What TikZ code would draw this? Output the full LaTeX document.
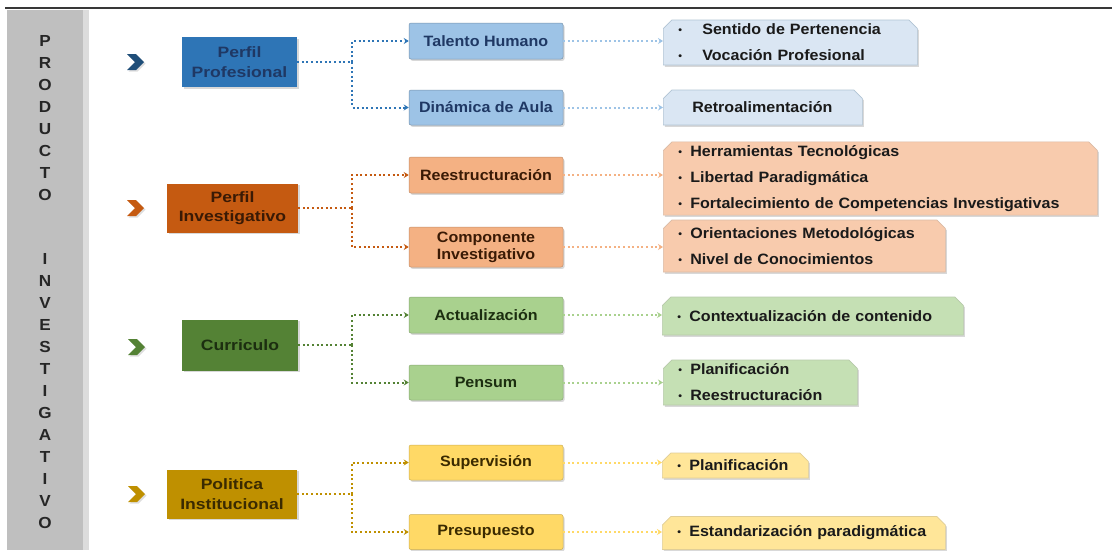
\documentclass[tikz,border=0pt]{standalone}
\usepackage{fontspec}
\setmainfont{Liberation Sans}[FakeStretch=1.07]
\newfontfamily\parfont{Liberation Sans}[FakeStretch=1.17]
\usetikzlibrary{shapes.misc,shadows,arrows.meta}
\definecolor{bP}{HTML}{2E75B6}
\definecolor{bC}{HTML}{9DC3E6}
\definecolor{bD}{HTML}{DAE6F3}
\definecolor{bT}{HTML}{1F3864}
\definecolor{bK}{HTML}{1F4E79}
\definecolor{oP}{HTML}{C55A11}
\definecolor{oC}{HTML}{F4B183}
\definecolor{oD}{HTML}{F8CBAD}
\definecolor{oT}{HTML}{3A1A05}
\definecolor{gP}{HTML}{548235}
\definecolor{gC}{HTML}{A9D18E}
\definecolor{gD}{HTML}{C5E0B4}
\definecolor{gT}{HTML}{1C2E10}
\definecolor{yP}{HTML}{BF9000}
\definecolor{yC}{HTML}{FFD966}
\definecolor{yD}{HTML}{FFE699}
\definecolor{yT}{HTML}{3A2A00}
\definecolor{txt}{HTML}{1A1A1A}
\definecolor{barG}{HTML}{BFBFBF}
\definecolor{barL}{HTML}{DCDCDC}
\newcommand\itm[1]{\makebox[12pt][l]{\raisebox{1pt}{\fontsize{10}{10}\selectfont •}}#1}
\newcommand\itmw[1]{\makebox[24pt][l]{\raisebox{1pt}{\fontsize{10}{10}\selectfont •}}#1}
\tikzset{chev/.pic={
  \fill[black,opacity=0.13] (-5.5,-6.5) -- (3.5,-6.5) -- (11.5,1.5) -- (3.5,9.5) -- (-5.5,9.5) -- (2.5,1.5) -- cycle;
  \fill[pic actions,line join=round] (-7,-8) -- (2,-8) -- (10,0) -- (2,8) -- (-7,8) -- (1,0) -- cycle;
}}
\begin{document}
\begin{tikzpicture}[x=1pt,y=-1pt,
  shad/.style={drop shadow={opacity=0.25,shadow xshift=1.5pt,shadow yshift=-1.8pt,fill=black!60}},
  pbox/.style={rectangle,inner sep=0pt,align=center,shad,font=\parfont\bfseries\fontsize{15}{19.5}\selectfont},
  cbox/.style={rectangle,rounded corners=2pt,minimum width=154pt,minimum height=36pt,inner sep=0pt,align=center,shad,font=\bfseries\fontsize{15}{17}\selectfont},
  dbox/.style={chamfered rectangle,chamfered rectangle corners={north west,north east},chamfered rectangle xsep=5pt,anchor=west,inner xsep=10pt,inner ysep=0pt,align=left,shad,text=txt,line width=0.7pt,font=\bfseries\fontsize{15}{26}\selectfont},
  letter/.style={inner sep=0pt,text=black!85,font=\bfseries\fontsize{16}{16}\selectfont},
  dotl/.style={line width=2pt,dash pattern=on 2pt off 2.6pt},
  arr/.style={-{Stealth[length=5pt,width=6pt]}}
]
\useasboundingbox (0,0) rectangle (1112,550);
\fill[white] (0,0) rectangle (1112,550);
% frame
\draw[line width=2pt,black!78] (5,8) -- (1112,8);
\fill[barG] (7,10) rectangle (83,550);
\fill[barL] (83,10) rectangle (89,550);
\foreach \c [count=\i from 0] in {P,R,O,D,U,C,T,O}
  \node[letter] (lp\i) at (45,{41+22*\i}) {\c};
\foreach \c [count=\i from 0] in {I,N,V,E,S,T,I,G,A,T,I,V,O}
  \node[letter] (li\i) at (45,{259+22*\i}) {\c};
% chevrons
\pic[fill=bK] at (134,62) {chev};
\pic[fill=oP] at (134,208) {chev};
\pic[fill=gP] at (135,347) {chev};
\pic[fill=yP] at (135,494) {chev};
% parents
\node[pbox,fill=bP,text=bT,minimum width=115pt,minimum height=50pt] (pp) at (239.5,62) {Perfil\\Profesional};
\node[pbox,fill=oP,text=oT,minimum width=131pt,minimum height=49pt] (pi) at (232.5,208) {Perfil\\Investigativo};
\node[pbox,fill=gP,text=gT,minimum width=116pt,minimum height=51pt] (cu) at (240,345) {Curriculo};
\node[pbox,fill=yP,text=yT,minimum width=130pt,minimum height=49pt] (po) at (232,494) {Politica\\Institucional};
% children
\node[cbox,fill=bC,draw=bC!75!black,line width=0.5pt,text=bT] (th) at (486,41) {Talento Humano};
\node[cbox,fill=bC,draw=bC!75!black,line width=0.5pt,text=bT,minimum height=35pt] (da) at (486,107.5) {Dinámica de Aula};
\node[cbox,fill=oC,draw=oC!80!black,line width=0.5pt,text=oT] (re) at (486,175) {Reestructuración};
\node[cbox,fill=oC,draw=oC!80!black,line width=0.5pt,text=oT,minimum height=40pt] (ci) at (486,247) {Componente\\Investigativo};
\node[cbox,fill=gC,draw=gC!80!black,line width=0.5pt,text=gT] (ac) at (486,315) {Actualización};
\node[cbox,fill=gC,draw=gC!80!black,line width=0.5pt,text=gT,minimum height=35pt] (pe) at (486,382.5) {Pensum};
\node[cbox,fill=yC,draw=yC!80!black,line width=0.5pt,text=yT,minimum height=35pt] (su) at (486,462.5) {Supervisión};
\node[cbox,fill=yC,draw=yC!80!black,line width=0.5pt,text=yT,minimum height=35pt] (pr) at (486,532) {Presupuesto};
% details
\node[dbox,fill=bD,draw=bC!80!black!60,minimum width=254pt,minimum height=45pt,text width=224pt] (d1) at (663,42.5) {\itmw{Sentido de Pertenencia}\\\itmw{Vocación Profesional}};
\node[dbox,fill=bD,draw=bC!80!black!60,minimum width=199pt,minimum height=35pt,text width=169pt] (d2) at (663,107.5) {\hspace*{14pt}Retroalimentación};
\node[dbox,fill=oD,draw=oC!80!black!60,minimum width=434pt,minimum height=73pt,text width=404pt] (d3) at (663,178.5) {\itm{Herramientas Tecnológicas}\\\itm{Libertad Paradigmática}\\\itm{Fortalecimiento de Competencias Investigativas}};
\node[dbox,fill=oD,draw=oC!80!black!60,minimum width=282pt,minimum height=52pt,text width=252pt] (d4) at (663,246) {\itm{Orientaciones Metodológicas}\\\itm{Nivel de Conocimientos}};
\node[dbox,fill=gD,draw=gC!80!black!60,minimum width=301pt,minimum height=38pt,text width=271pt] (d5) at (662,316) {\itm{Contextualización de contenido}};
\node[dbox,fill=gD,draw=gC!80!black!60,minimum width=194pt,minimum height=45pt,text width=164pt] (d6) at (663,382.5) {\itm{Planificación}\\\itm{Reestructuración}};
\node[dbox,fill=yD,draw=yC!80!black!60,minimum width=146pt,minimum height=25pt,text width=116pt] (d7) at (662,465.5) {\itm{Planificación}};
\node[dbox,fill=yD,draw=yC!80!black!60,minimum width=283pt,minimum height=33pt,text width=253pt] (d8) at (662,533) {\itm{Estandarización paradigmática}};
% junctions
\coordinate (j1) at (352,62);
\coordinate (j2) at (352,208);
\coordinate (j3) at (352,345);
\coordinate (j4) at (352,494);
% main connectors
\draw[dotl,bP] (pp.east) -- (j1);
\draw[dotl,bP,arr] (j1) |- (th.west);
\draw[dotl,bP,arr] (j1) |- (da.west);
\draw[dotl,oP] (pi.east |- j2) -- (j2);
\draw[dotl,oP,arr] (j2) |- (re.west);
\draw[dotl,oP,arr] (j2) |- (ci.west);
\draw[dotl,gP] (cu.east |- j3) -- (j3);
\draw[dotl,gP,arr] (j3) |- (ac.west);
\draw[dotl,gP,arr] (j3) |- (pe.west);
\draw[dotl,yP] (po.east |- j4) -- (j4);
\draw[dotl,yP,arr] (j4) |- (su.west);
\draw[dotl,yP,arr] (j4) |- (pr.west);
% detail connectors
\draw[dotl,bC,arr] (th.east) -- (th.east -| d1.west);
\draw[dotl,bC,arr] (da.east) -- (da.east -| d2.west);
\draw[dotl,oC,arr] (re.east) -- (re.east -| d3.west);
\draw[dotl,oC,arr] (ci.east) -- (ci.east -| d4.west);
\draw[dotl,gC,arr] (ac.east) -- (ac.east -| d5.west);
\draw[dotl,gC,arr] (pe.east) -- (pe.east -| d6.west);
\draw[dotl,yC,arr] (su.east) -- (su.east -| d7.west);
\draw[dotl,yC,arr] (pr.east) -- (pr.east -| d8.west);
\end{tikzpicture}
\end{document}
